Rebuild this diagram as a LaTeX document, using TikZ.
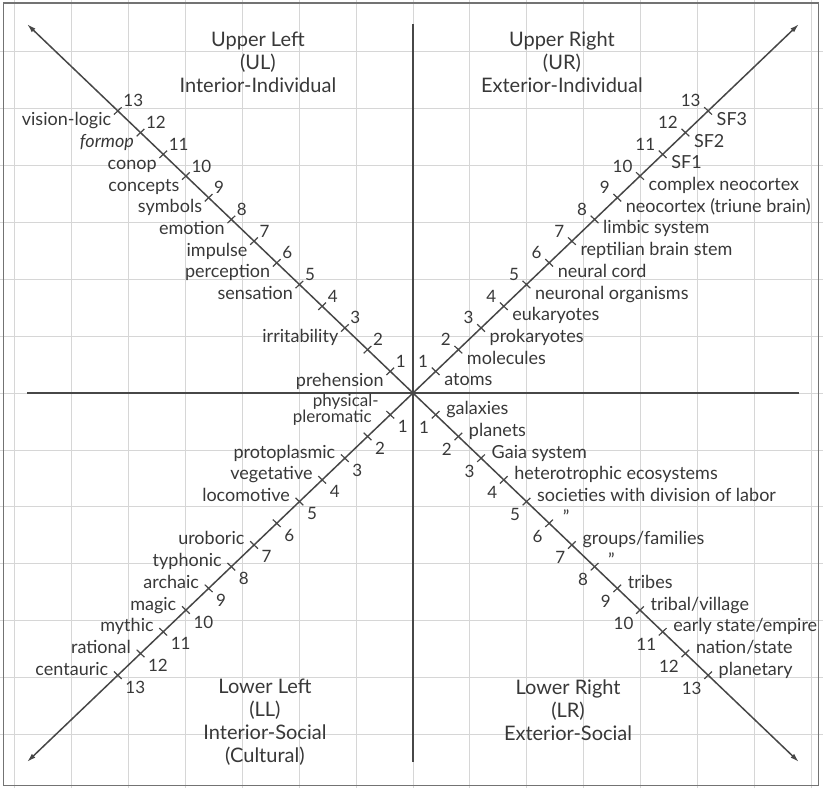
\documentclass[tikz,border=0pt]{standalone}
\usepackage{fontspec}
\setmainfont{Lato}
\usetikzlibrary{arrows.meta}

\tikzset{
  gridline/.style={black!16,line width=.4pt},
  axisline/.style={black!72,line width=.8pt},
  diag/.style={black!72,line width=.75pt,-{Latex[length=4.5pt,width=2.6pt]}},
  tickmark/.style={black!72,line width=.6pt},
  lab/.style={text=black!78,inner sep=0pt,font=\fontsize{9}{10}\selectfont},
  num/.style={text=black!78,inner sep=0pt,font=\fontsize{8.5}{9}\selectfont},
  quadtitle/.style={text=black!78,align=center,inner sep=0pt,font=\fontsize{10}{11.5}\selectfont},
  numUL/.style={num,anchor=base west,xshift=2.5pt,yshift=2pt},
  labUL/.style={lab,anchor=base east,xshift=-3pt,yshift=-7.5pt},
  numUR/.style={num,anchor=base east,xshift=-3.5pt,yshift=2pt},
  labUR/.style={lab,anchor=base west,xshift=4pt,yshift=-7.25pt},
  numLL/.style={num,anchor=base west,xshift=3.5pt,yshift=-9pt},
  labLL/.style={lab,anchor=base east,xshift=-4.5pt},
  numLR/.style={num,anchor=base east,xshift=-3pt,yshift=-9.5pt},
  labLR/.style={lab,anchor=base west,xshift=5pt},
}

\begin{document}
\begin{tikzpicture}[x=11.35pt,y=10.85pt]
\path[use as bounding box] (-18.19,-18.2) rectangle (18.06,18.11);
\begin{scope}
\clip (-18.19,-18.2) rectangle (18.06,18.11);
\draw[gridline] (-18.19,-18.2) grid (18.06,18.11);
\end{scope}
\draw[black!55,line width=.6pt] (-18.02,-18.1) rectangle (17.85,17.97);

% axes
\coordinate (O) at (0,0);
\coordinate (W) at (-17,0);
\coordinate (E) at (17,0);
\coordinate (N) at (0,17);
\coordinate (S) at (0,-17);
\coordinate (NW) at (-17,17);
\coordinate (NE) at (17,17);
\coordinate (SW) at (-17,-17);
\coordinate (SE) at (17,-17);
\draw[axisline] (W) -- (E);
\draw[axisline] (S) -- (N);
\draw[diag] (O) -- (NW);
\draw[diag] (O) -- (NE);
\draw[diag] (O) -- (SW);
\draw[diag] (O) -- (SE);

% quadrant titles
\node[quadtitle] (ultitle) at (-6.83,15.25) {Upper Left\\(UL)\\Interior-Individual};
\node[quadtitle] (urtitle) at (6.56,15.25) {Upper Right\\(UR)\\Exterior-Individual};
\node[quadtitle] (lltitle) at (-6.52,-15.16) {Lower Left\\(LL)\\Interior-Social\\(Cultural)};
\node[quadtitle] (lrtitle) at (6.83,-14.6) {Lower Right\\(LR)\\Exterior-Social};

% upper left
\draw[tickmark] (-1,1) +(-.17,-.17) -- +(.17,.17) (-1,1) node[numUL] (ul1) {1} node[labUL] (ul-prehension) {prehension};
\draw[tickmark] (-2,2) +(-.17,-.17) -- +(.17,.17) (-2,2) node[numUL] (ul2) {2};
\draw[tickmark] (-3,3) +(-.17,-.17) -- +(.17,.17) (-3,3) node[numUL] (ul3) {3} node[labUL] (ul-irritability) {irritability};
\draw[tickmark] (-4,4) +(-.17,-.17) -- +(.17,.17) (-4,4) node[numUL] (ul4) {4};
\draw[tickmark] (-5,5) +(-.17,-.17) -- +(.17,.17) (-5,5) node[numUL] (ul5) {5} node[labUL] (ul-sensation) {sensation};
\draw[tickmark] (-6,6) +(-.17,-.17) -- +(.17,.17) (-6,6) node[numUL] (ul6) {6} node[labUL] (ul-perception) {perception};
\draw[tickmark] (-7,7) +(-.17,-.17) -- +(.17,.17) (-7,7) node[numUL] (ul7) {7} node[labUL] (ul-impulse) {impulse};
\draw[tickmark] (-8,8) +(-.17,-.17) -- +(.17,.17) (-8,8) node[numUL] (ul8) {8} node[labUL] (ul-emotion) {emotion};
\draw[tickmark] (-9,9) +(-.17,-.17) -- +(.17,.17) (-9,9) node[numUL] (ul9) {9} node[labUL] (ul-symbols) {symbols};
\draw[tickmark] (-10,10) +(-.17,-.17) -- +(.17,.17) (-10,10) node[numUL] (ul10) {10} node[labUL] (ul-concepts) {concepts};
\draw[tickmark] (-11,11) +(-.17,-.17) -- +(.17,.17) (-11,11) node[numUL] (ul11) {11} node[labUL] (ul-conop) {conop};
\draw[tickmark] (-12,12) +(-.17,-.17) -- +(.17,.17) (-12,12) node[numUL] (ul12) {12} node[labUL] (ul-formop) {\itshape formop};
\draw[tickmark] (-13,13) +(-.17,-.17) -- +(.17,.17) (-13,13) node[numUL] (ul13) {13} node[labUL] (ul-visionlogic) {vision-logic};

% upper right
\draw[tickmark] (1,1) +(-.17,.17) -- +(.17,-.17) (1,1) node[numUR] (ur1) {1} node[labUR] (ur-atoms) {atoms};
\draw[tickmark] (2,2) +(-.17,.17) -- +(.17,-.17) (2,2) node[numUR] (ur2) {2} node[labUR] (ur-molecules) {molecules};
\draw[tickmark] (3,3) +(-.17,.17) -- +(.17,-.17) (3,3) node[numUR] (ur3) {3} node[labUR] (ur-prokaryotes) {prokaryotes};
\draw[tickmark] (4,4) +(-.17,.17) -- +(.17,-.17) (4,4) node[numUR] (ur4) {4} node[labUR] (ur-eukaryotes) {eukaryotes};
\draw[tickmark] (5,5) +(-.17,.17) -- +(.17,-.17) (5,5) node[numUR] (ur5) {5} node[labUR] (ur-neuronal) {neuronal organisms};
\draw[tickmark] (6,6) +(-.17,.17) -- +(.17,-.17) (6,6) node[numUR] (ur6) {6} node[labUR] (ur-neuralcord) {neural cord};
\draw[tickmark] (7,7) +(-.17,.17) -- +(.17,-.17) (7,7) node[numUR] (ur7) {7} node[labUR] (ur-reptilian) {reptilian brain stem};
\draw[tickmark] (8,8) +(-.17,.17) -- +(.17,-.17) (8,8) node[numUR] (ur8) {8} node[labUR] (ur-limbic) {limbic system};
\draw[tickmark] (9,9) +(-.17,.17) -- +(.17,-.17) (9,9) node[numUR] (ur9) {9} node[labUR] (ur-neocortex) {neocortex (triune brain)};
\draw[tickmark] (10,10) +(-.17,.17) -- +(.17,-.17) (10,10) node[numUR] (ur10) {10} node[labUR] (ur-complex) {complex neocortex};
\draw[tickmark] (11,11) +(-.17,.17) -- +(.17,-.17) (11,11) node[numUR] (ur11) {11} node[labUR] (ur-sf1) {SF1};
\draw[tickmark] (12,12) +(-.17,.17) -- +(.17,-.17) (12,12) node[numUR] (ur12) {12} node[labUR] (ur-sf2) {SF2};
\draw[tickmark] (13,13) +(-.17,.17) -- +(.17,-.17) (13,13) node[numUR] (ur13) {13} node[labUR] (ur-sf3) {SF3};

% lower left
\draw[tickmark] (-1,-1) +(-.17,.17) -- +(.17,-.17) (-1,-1) node[numLL] (ll1) {1} node[labLL,font=\fontsize{8.5}{9}\selectfont,xshift=-1pt,yshift=4pt] (ll-physical) {physical-} node[labLL,font=\fontsize{8.5}{9}\selectfont,xshift=-4.5pt,yshift=-4pt] (ll-pleromatic) {pleromatic};
\draw[tickmark] (-2,-2) +(-.17,.17) -- +(.17,-.17) (-2,-2) node[numLL] (ll2) {2};
\draw[tickmark] (-3,-3) +(-.17,.17) -- +(.17,-.17) (-3,-3) node[numLL] (ll3) {3} node[labLL] (ll-protoplasmic) {protoplasmic};
\draw[tickmark] (-4,-4) +(-.17,.17) -- +(.17,-.17) (-4,-4) node[numLL] (ll4) {4} node[labLL] (ll-vegetative) {vegetative};
\draw[tickmark] (-5,-5) +(-.17,.17) -- +(.17,-.17) (-5,-5) node[numLL] (ll5) {5} node[labLL] (ll-locomotive) {locomotive};
\draw[tickmark] (-6,-6) +(-.17,.17) -- +(.17,-.17) (-6,-6) node[numLL] (ll6) {6};
\draw[tickmark] (-7,-7) +(-.17,.17) -- +(.17,-.17) (-7,-7) node[numLL] (ll7) {7} node[labLL] (ll-uroboric) {uroboric};
\draw[tickmark] (-8,-8) +(-.17,.17) -- +(.17,-.17) (-8,-8) node[numLL] (ll8) {8} node[labLL] (ll-typhonic) {typhonic};
\draw[tickmark] (-9,-9) +(-.17,.17) -- +(.17,-.17) (-9,-9) node[numLL] (ll9) {9} node[labLL] (ll-archaic) {archaic};
\draw[tickmark] (-10,-10) +(-.17,.17) -- +(.17,-.17) (-10,-10) node[numLL] (ll10) {10} node[labLL] (ll-magic) {magic};
\draw[tickmark] (-11,-11) +(-.17,.17) -- +(.17,-.17) (-11,-11) node[numLL] (ll11) {11} node[labLL] (ll-mythic) {mythic};
\draw[tickmark] (-12,-12) +(-.17,.17) -- +(.17,-.17) (-12,-12) node[numLL] (ll12) {12} node[labLL] (ll-rational) {rational};
\draw[tickmark] (-13,-13) +(-.17,.17) -- +(.17,-.17) (-13,-13) node[numLL] (ll13) {13} node[labLL] (ll-centauric) {centauric};

% lower right
\draw[tickmark] (1,-1) +(-.17,-.17) -- +(.17,.17) (1,-1) node[numLR] (lr1) {1} node[labLR] (lr-galaxies) {galaxies};
\draw[tickmark] (2,-2) +(-.17,-.17) -- +(.17,.17) (2,-2) node[numLR] (lr2) {2} node[labLR] (lr-planets) {planets};
\draw[tickmark] (3,-3) +(-.17,-.17) -- +(.17,.17) (3,-3) node[numLR] (lr3) {3} node[labLR] (lr-gaia) {Gaia system};
\draw[tickmark] (4,-4) +(-.17,-.17) -- +(.17,.17) (4,-4) node[numLR] (lr4) {4} node[labLR] (lr-hetero) {heterotrophic ecosystems};
\draw[tickmark] (5,-5) +(-.17,-.17) -- +(.17,.17) (5,-5) node[numLR] (lr5) {5} node[labLR] (lr-societies) {societies with division of labor};
\draw[tickmark] (6,-6) +(-.17,-.17) -- +(.17,.17) (6,-6) node[numLR] (lr6) {6} node[labLR,xshift=1.5pt] (lr-ditto1) {"};
\draw[tickmark] (7,-7) +(-.17,-.17) -- +(.17,.17) (7,-7) node[numLR] (lr7) {7} node[labLR] (lr-groups) {groups/families};
\draw[tickmark] (8,-8) +(-.17,-.17) -- +(.17,.17) (8,-8) node[numLR] (lr8) {8} node[labLR,xshift=1.5pt] (lr-ditto2) {"};
\draw[tickmark] (9,-9) +(-.17,-.17) -- +(.17,.17) (9,-9) node[numLR] (lr9) {9} node[labLR] (lr-tribes) {tribes};
\draw[tickmark] (10,-10) +(-.17,-.17) -- +(.17,.17) (10,-10) node[numLR] (lr10) {10} node[labLR] (lr-village) {tribal/village};
\draw[tickmark] (11,-11) +(-.17,-.17) -- +(.17,.17) (11,-11) node[numLR] (lr11) {11} node[labLR] (lr-empire) {early state/empire};
\draw[tickmark] (12,-12) +(-.17,-.17) -- +(.17,.17) (12,-12) node[numLR] (lr12) {12} node[labLR] (lr-nation) {nation/state};
\draw[tickmark] (13,-13) +(-.17,-.17) -- +(.17,.17) (13,-13) node[numLR] (lr13) {13} node[labLR] (lr-planetary) {planetary};
\end{tikzpicture}
\end{document}
